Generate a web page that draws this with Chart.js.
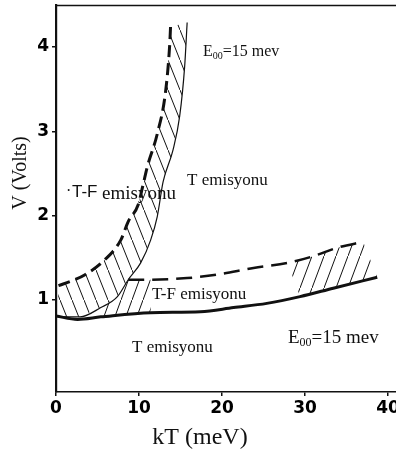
<!DOCTYPE html>
<html><head><meta charset="utf-8">
<script src="https://cdn.jsdelivr.net/npm/chart.js@4.4.0/dist/chart.umd.min.js"></script>
<style>html,body{margin:0;padding:0;background:#fff;}</style>
</head><body>
<canvas id="c" width="396" height="452"></canvas>
<script>
// ---- data (kT in meV, V in volts) ----
const dashUpKT = [0.3, 2.0, 3.5, 5.7, 7.8, 8.7, 9.9, 10.5, 11.0, 12.2, 13.2, 13.7, 13.8];
const dashUpV  = [1.17, 1.23, 1.30, 1.46, 1.71, 1.93, 2.13, 2.37, 2.58, 2.97, 3.47, 4.03, 4.24];
const thinKT   = [0.2, 2.9, 5.4, 7.4, 8.7, 10.2, 11.4, 12.2, 12.9, 14.1, 14.9, 15.5, 15.8];
const thinV    = [0.80, 0.80, 0.91, 1.04, 1.24, 1.44, 1.71, 1.99, 2.40, 2.78, 3.18, 3.77, 4.29];
const dashFlatKT = [8.7, 11.4, 15.8, 19.4, 23.8, 27.9, 31.0, 33.9, 37.0];
const dashFlatV  = [1.24, 1.24, 1.26, 1.30, 1.38, 1.44, 1.52, 1.62, 1.69];
const bottomKT = [0, 2.6, 5.4, 11.4, 17.4, 21.4, 25.4, 29.4, 33.4, 38.7];
const bottomV  = [0.81, 0.77, 0.80, 0.85, 0.86, 0.91, 0.96, 1.04, 1.14, 1.27];
const xTicks = [0, 10, 20, 30, 40];
const yTicks = [1, 2, 3, 4];
const xTitle = 'kT (meV)';
const yTitle = 'V (Volts)';

const pts = (xs, ys) => xs.map((x, i) => ({x: x, y: ys[i]}));
const INK = '#111';

function makePattern(w, h, dir) {
  const c = document.createElement('canvas');
  c.width = w; c.height = h;
  const g = c.getContext('2d');
  g.strokeStyle = INK; g.lineWidth = 1;
  g.beginPath();
  if (dir === 'back') { g.moveTo(0, 0); g.lineTo(w, h); }
  else { g.moveTo(0, h); g.lineTo(w, 0); }
  g.stroke();
  return document.getElementById('c').getContext('2d').createPattern(c, 'repeat');
}

// hatch regions: chains of [datasetIndex, kTmin, kTmax, reversed]
const hatchRegions = [
  {dir: 'back', w: 12, h: 30, chain: [[0, -1, 99, false], [1, -1, 99, true]]},
  {dir: 'fwd', w: 11, h: 30, chain: [[1, 5, 8.7, false], [2, 8.7, 11.5, false], [3, 5, 11.5, true]]},
  {dir: 'fwd', w: 12, h: 32, chain: [[2, 26, 99, false], [3, 26, 99, true]]}
];

const decor = {
  id: 'decor',
  beforeDatasetsDraw(chart) {
    const ctx = chart.ctx, a = chart.chartArea;
    ctx.save();
    ctx.beginPath(); ctx.rect(a.left, a.top, a.right - a.left, a.bottom - a.top); ctx.clip();
    hatchRegions.forEach(r => {
      const poly = [];
      r.chain.forEach(([di, lo, hi, rev]) => {
        const ds = chart.data.datasets[di].data;
        const meta = chart.getDatasetMeta(di).data;
        let sel = [];
        ds.forEach((d, i) => { if (d.x >= lo && d.x <= hi) sel.push(meta[i]); });
        if (rev) sel = sel.reverse();
        sel.forEach(p => poly.push(p));
      });
      ctx.beginPath();
      poly.forEach((p, i) => i ? ctx.lineTo(p.x, p.y) : ctx.moveTo(p.x, p.y));
      ctx.closePath();
      ctx.fillStyle = makePattern(r.w, r.h, r.dir);
      ctx.fill();
    });
    ctx.restore();
  },
  afterDraw(chart) {
    const ctx = chart.ctx, a = chart.chartArea;
    ctx.save();
    // top frame line
    ctx.strokeStyle = INK; ctx.lineWidth = 1.3;
    ctx.beginPath(); ctx.moveTo(a.left, a.top + 0.5); ctx.lineTo(a.right, a.top + 0.5); ctx.stroke();
    ctx.fillStyle = INK;
    ctx.textBaseline = 'middle';
    const serif = s => s + 'px "Liberation Serif", "DejaVu Serif", serif';
    const sans = s => s + 'px "Liberation Sans", Arial, sans-serif';
    // axis titles
    ctx.font = serif(24); ctx.textAlign = 'center';
    ctx.fillText(xTitle, 200, 438);
    ctx.save(); ctx.translate(21, 173); ctx.rotate(-Math.PI / 2);
    ctx.font = serif(20); ctx.fillText(yTitle, 0, 0); ctx.restore();
    // region labels
    ctx.textAlign = 'left';
    // upper-left label: sans "T-F" + serif "emisyonu"
    ctx.font = serif(16); ctx.fillText('·', 66, 192);
    ctx.font = sans(17); ctx.fillText('T-F', 72, 192);
    ctx.font = serif(19); ctx.fillText('emisyonu', 102, 194);
    ctx.font = serif(17);
    ctx.fillText('T emisyonu', 187, 181);
    ctx.fillText('T-F emisyonu', 152, 295);
    ctx.fillText('T emisyonu', 132, 348);
    function e00(x, y, s) {
      ctx.font = serif(s); ctx.fillText('E', x, y);
      let w = ctx.measureText('E').width;
      ctx.font = serif(Math.round(s * 0.62)); ctx.fillText('00', x + w, y + s * 0.25);
      w += ctx.measureText('00').width;
      ctx.font = serif(s); ctx.fillText('=15 mev', x + w, y);
    }
    e00(203, 52, 16);
    e00(288, 338, 19);
    ctx.restore();
  }
};

const tickFont = {family: '"DejaVu Sans", sans-serif', weight: 'bold', size: 17};

new Chart(document.getElementById('c'), {
  type: 'line',
  data: {
    datasets: [
      {data: pts(dashUpKT, dashUpV), borderColor: INK, borderWidth: 3, borderDash: [12, 6], cubicInterpolationMode: 'monotone', pointRadius: 0},
      {data: pts(thinKT, thinV), borderColor: INK, borderWidth: 1.2, cubicInterpolationMode: 'monotone', pointRadius: 0},
      {data: pts(dashFlatKT, dashFlatV), borderColor: INK, borderWidth: 2.5, borderDash: [16, 8], cubicInterpolationMode: 'monotone', pointRadius: 0},
      {data: pts(bottomKT, bottomV), borderColor: INK, borderWidth: 3, cubicInterpolationMode: 'monotone', pointRadius: 0}
    ]
  },
  options: {
    responsive: false,
    animation: false,
    layout: {padding: {top: 5, right: 0, left: 0, bottom: 0}},
    plugins: {legend: {display: false}, tooltip: {enabled: false}},
    scales: {
      x: {
        type: 'linear', min: 0, max: 40.96,
        afterBuildTicks: s => { s.ticks = xTicks.map(v => ({value: v})); },
        afterFit: s => { s.height = 60; s.paddingLeft = 0; s.paddingRight = 0; },
        grid: {drawOnChartArea: false, drawTicks: true, tickLength: 4, color: INK, lineWidth: 1.5},
        border: {display: true, color: INK, width: 1.6},
        ticks: {font: tickFont, color: '#000', padding: 2, maxRotation: 0, autoSkip: false}
      },
      y: {
        type: 'linear', min: -0.091, max: 4.498,
        afterBuildTicks: s => { s.ticks = yTicks.map(v => ({value: v})); },
        afterFit: s => { s.width = 56; s.paddingTop = 0; s.paddingBottom = 0; },
        grid: {drawOnChartArea: false, drawTicks: true, tickLength: 4, color: INK, lineWidth: 1.5},
        border: {display: true, color: INK, width: 2.2},
        ticks: {font: tickFont, color: '#000', padding: 3, autoSkip: false}
      }
    }
  },
  plugins: [decor]
});
</script>
</body></html>
